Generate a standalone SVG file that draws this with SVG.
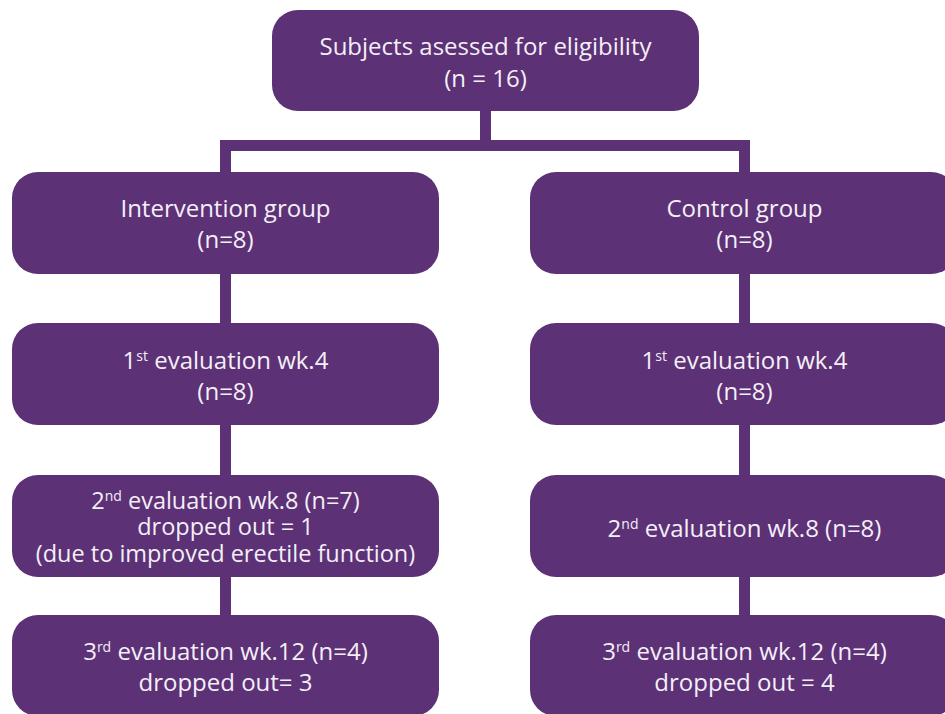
<svg xmlns="http://www.w3.org/2000/svg" width="945" height="714" viewBox="0 0 945 714">
<style>
.box{fill:#5c3176;}
.ln{fill:#5c3176;}
text{font-family:"Open Sans","Liberation Sans",sans-serif;font-size:24px;fill:#f4eff7;text-anchor:middle;}
.sup{font-size:14px;}
.tight{font-size:23.5px;}
</style>
<rect width="945" height="714" fill="#ffffff"/>
<g id="connectors">
<rect class="ln" x="480" y="105" width="11" height="40"/>
<rect class="ln" x="220" y="140" width="529" height="11"/>
<rect class="ln" x="220" y="140" width="11" height="480"/>
<rect class="ln" x="739" y="140" width="11" height="480"/>
</g>
<g id="n0">
<rect class="box" x="272" y="10" width="427" height="101" rx="26"/>
<text x="485.5" y="55">Subjects asessed for eligibility</text>
<text x="485.5" y="87">(n = 16)</text>
</g>
<g id="n1">
<rect class="box" x="12" y="172" width="427" height="102" rx="26"/>
<text x="225.5" y="217">Intervention group</text>
<text x="225.5" y="248">(n=8)</text>
</g>
<g id="n2">
<rect class="box" x="12" y="323" width="427" height="102" rx="26"/>
<text x="225.5" y="369">1<tspan class="sup" dy="-8">st</tspan><tspan dy="8"> evaluation wk.4</tspan></text>
<text x="225.5" y="400">(n=8)</text>
</g>
<g id="n3">
<rect class="box" x="12" y="475" width="427" height="102" rx="26"/>
<text class="tight" x="225.5" y="509">2<tspan class="sup" dy="-8">nd</tspan><tspan dy="8"> evaluation wk.8 (n=7)</tspan></text>
<text class="tight" x="225.5" y="535">dropped out = 1</text>
<text class="tight" x="225.5" y="562">(due to improved erectile function)</text>
</g>
<g id="n4">
<rect class="box" x="12" y="615" width="427" height="101" rx="26"/>
<text x="225.5" y="660">3<tspan class="sup" dy="-8">rd</tspan><tspan dy="8"> evaluation wk.12 (n=4)</tspan></text>
<text x="225.5" y="691">dropped out= 3</text>
</g>
<g id="n5">
<rect class="box" x="530" y="172" width="427" height="102" rx="26"/>
<text x="744.5" y="217">Control group</text>
<text x="744.5" y="248">(n=8)</text>
</g>
<g id="n6">
<rect class="box" x="530" y="323" width="427" height="102" rx="26"/>
<text x="744.5" y="369">1<tspan class="sup" dy="-8">st</tspan><tspan dy="8"> evaluation wk.4</tspan></text>
<text x="744.5" y="400">(n=8)</text>
</g>
<g id="n7">
<rect class="box" x="530" y="475" width="427" height="102" rx="26"/>
<text x="744.5" y="537">2<tspan class="sup" dy="-8">nd</tspan><tspan dy="8"> evaluation wk.8 (n=8)</tspan></text>
</g>
<g id="n8">
<rect class="box" x="530" y="615" width="427" height="101" rx="26"/>
<text x="744.5" y="660">3<tspan class="sup" dy="-8">rd</tspan><tspan dy="8"> evaluation wk.12 (n=4)</tspan></text>
<text x="744.5" y="691">dropped out = 4</text>
</g>
</svg>
